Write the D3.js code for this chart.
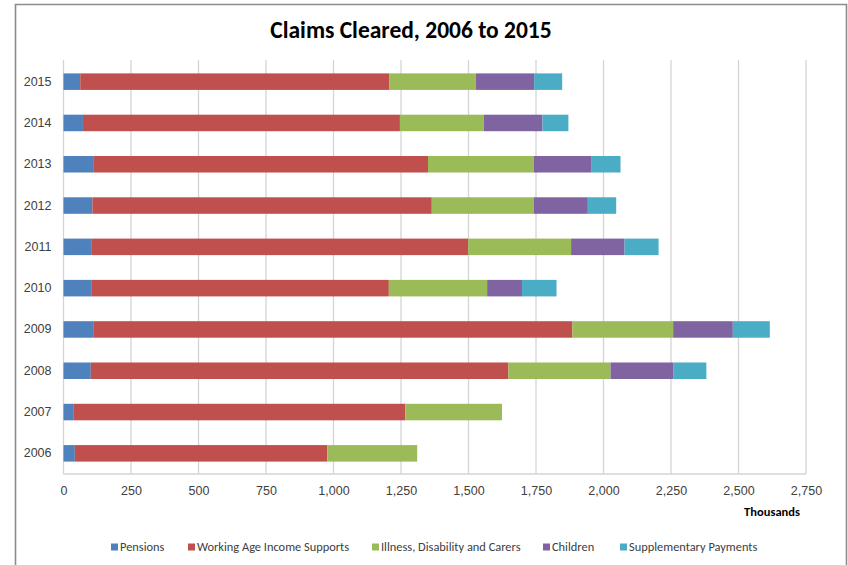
<!DOCTYPE html>
<html>
<head>
<meta charset="utf-8">
<script src="https://cdn.jsdelivr.net/npm/d3@7"></script>
<style>
    body { margin: 0; background: #fff; }
    svg { font-family: Calibri, Carlito, Lato, sans-serif; }
    .grid line { stroke: #d4d4d4; stroke-width: 1.3; }
    .axis path, .axis line { stroke: none; }
    .axis text { fill: #404040; font-size: 12.5px; }
</style>
</head>
<body>
<svg width="848" height="565"></svg>
<script>
/*global d3 */
"use strict";

var years = ["2006", "2007", "2008", "2009", "2010",
        "2011", "2012", "2013", "2014", "2015"];
var seriesNames = ["Pensions", "Working Age Income Supports",
        "Illness, Disability and Carers", "Children",
        "Supplementary Payments"];
var seriesColors = ["#4f81bd", "#c0504d", "#9bbb59", "#8064a2", "#4bacc6"];

// thousands of claims
var pensions = [42, 36, 101, 110, 105, 105, 107, 110, 72, 62];
var workingAge = [935, 1230, 1547, 1775, 1100, 1394, 1257, 1240, 1174, 1144];
var illness = [333, 358, 378, 373, 364, 381, 377, 391, 311, 321];
var children = [0, 0, 232, 221, 129, 198, 201, 213, 217, 216];
var supplementary = [0, 0, 123, 137, 128, 126, 105, 109, 96, 104];
var xTicks = [0, 250, 500, 750, 1000, 1250, 1500, 1750, 2000, 2250, 2500,
        2750];

var svg = d3.select("svg");
var plot = {left: 63.5, right: 806, top: 61, bottom: 474};

var rows = years.map(function (year, i) {
    return {
        year: year,
        Pensions: pensions[i],
        "Working Age Income Supports": workingAge[i],
        "Illness, Disability and Carers": illness[i],
        Children: children[i],
        "Supplementary Payments": supplementary[i]
    };
});

var xScale = d3.scaleLinear()
    .domain([0, 2750])
    .range([plot.left, plot.right]);
var yScale = d3.scaleBand()
    .domain(years.slice().reverse())
    .range([plot.top, plot.bottom])
    .paddingInner(0.6)
    .paddingOuter(0.3);
var color = d3.scaleOrdinal().domain(seriesNames).range(seriesColors);

// outer frame
svg.append("path")
    .attr("d", "M15.5,565V4.5H846.5V565")
    .attr("fill", "none")
    .attr("stroke", "#8c8c8c")
    .attr("stroke-width", 1.6);

svg.append("text")
    .attr("x", 411)
    .attr("y", 38)
    .attr("text-anchor", "middle")
    .attr("font-size", "23.5px")
    .attr("font-weight", "bold")
    .attr("fill", "#000")
    .text("Claims Cleared, 2006 to 2015");

// vertical grid lines
svg.append("g")
    .attr("class", "grid")
    .selectAll("line")
    .data(xTicks)
    .join("line")
    .attr("x1", xScale)
    .attr("x2", xScale)
    .attr("y1", plot.top - 1)
    .attr("y2", plot.bottom);

svg.append("line")
    .attr("x1", plot.left)
    .attr("x2", plot.right)
    .attr("y1", plot.bottom)
    .attr("y2", plot.bottom)
    .attr("stroke", "#d4d4d4")
    .attr("stroke-width", 1.3);

var stack = d3.stack().keys(seriesNames);
var layers = stack(rows);

svg.append("g")
    .selectAll("g")
    .data(layers)
    .join("g")
    .attr("fill", function (d) {
        return color(d.key);
    })
    .selectAll("rect")
    .data(function (d) {
        return d;
    })
    .join("rect")
    .attr("x", function (d) {
        return xScale(d[0]);
    })
    .attr("y", function (d) {
        return yScale(d.data.year);
    })
    .attr("width", function (d) {
        return xScale(d[1]) - xScale(d[0]);
    })
    .attr("height", yScale.bandwidth());

var xAxis = d3.axisBottom(xScale)
    .tickValues(xTicks)
    .tickSize(0)
    .tickPadding(12)
    .tickFormat(d3.format(","));
svg.append("g")
    .attr("class", "axis")
    .attr("transform", "translate(0," + plot.bottom + ")")
    .call(xAxis);

var yAxis = d3.axisLeft(yScale)
    .tickSize(0)
    .tickPadding(12);
svg.append("g")
    .attr("class", "axis")
    .attr("transform", "translate(" + plot.left + ",0)")
    .call(yAxis);

svg.append("text")
    .attr("x", 800)
    .attr("y", 516)
    .attr("text-anchor", "end")
    .attr("font-size", "12.5px")
    .attr("font-weight", "bold")
    .attr("fill", "#000")
    .text("Thousands");

// legend
var legendX = [111, 188, 372, 543, 620];
var legend = svg.append("g")
    .selectAll("g")
    .data(seriesNames)
    .join("g")
    .attr("transform", function (d, i) {
        return "translate(" + legendX[i] + ",547)";
    });
legend.append("rect")
    .attr("x", 0)
    .attr("y", -3.5)
    .attr("width", 7)
    .attr("height", 7)
    .attr("fill", color);
legend.append("text")
    .attr("x", 9)
    .attr("dy", "0.35em")
    .attr("font-size", "12.4px")
    .attr("fill", "#404040")
    .text(function (d) {
        return d;
    });
</script>
</body>
</html>
